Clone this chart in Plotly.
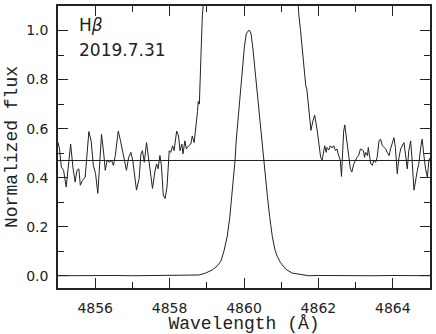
import plotly.graph_objects as go

# line profile (normalized flux)
PROFILE_WAVE = [4855.00, 4855.50, 4856.00, 4856.50, 4857.00, 4857.50, 4858.00, 4858.50,
                4858.79, 4858.97, 4859.15, 4859.28, 4859.38, 4859.46, 4859.55, 4859.62,
                4859.67, 4859.71, 4859.76, 4859.79, 4859.85, 4859.90, 4859.95, 4860.01,
                4860.06, 4860.12, 4860.15, 4860.19, 4860.24, 4860.29, 4860.35, 4860.40,
                4860.46, 4860.51, 4860.54, 4860.58, 4860.63, 4860.69, 4860.76, 4860.83,
                4860.89, 4860.98, 4861.12, 4861.29, 4861.56, 4861.74, 4862.00, 4862.50,
                4863.00, 4863.50, 4864.00, 4864.50, 4865.00]
PROFILE_FLUX = [0.000, 0.001, 0.000, 0.001, 0.000, 0.001, 0.000, 0.001,
                0.003, 0.011, 0.024, 0.040, 0.060, 0.100, 0.161, 0.241,
                0.322, 0.402, 0.472, 0.550, 0.657, 0.765, 0.859, 0.932,
                0.986, 1.000, 1.000, 0.986, 0.926, 0.845, 0.765, 0.671,
                0.577, 0.497, 0.472, 0.402, 0.322, 0.241, 0.161, 0.107,
                0.080, 0.054, 0.027, 0.011, 0.003, 0.000, 0.001, 0.000,
                0.001, 0.000, 0.001, 0.000, 0.000]

# magnified wings (off the top of the axes between the two segments)
WING_WAVE = [4855.00, 4855.04, 4855.09, 4855.15, 4855.22, 4855.29, 4855.34, 4855.40,
             4855.46, 4855.51, 4855.56, 4855.60, 4855.66, 4855.73, 4855.78, 4855.83,
             4855.89, 4855.95, 4856.01, 4856.07, 4856.11, 4856.17, 4856.23, 4856.27,
             4856.32, 4856.38, 4856.44, 4856.49, 4856.54, 4856.62, 4856.68, 4856.74,
             4856.78, 4856.84, 4856.90, 4856.96, 4857.01, 4857.07, 4857.11, 4857.18,
             4857.23, 4857.27, 4857.32, 4857.38, 4857.43, 4857.50, 4857.54, 4857.61,
             4857.65, 4857.69, 4857.74, 4857.78, 4857.83, 4857.88, 4857.93, 4857.99,
             4858.03, 4858.08, 4858.12, 4858.19, 4858.24, 4858.28, 4858.33, 4858.36,
             4858.41, 4858.45, 4858.51, 4858.57, 4858.61, 4858.66, 4858.71, 4858.75,
             4858.77, 4858.80, 4858.84, 4858.88, 4858.93,
             None,
             4861.44, 4861.47, 4861.52, 4861.58, 4861.63, 4861.66, 4861.69, 4861.74,
             4861.80, 4861.85, 4861.90, 4861.97, 4862.01, 4862.06, 4862.10, 4862.14,
             4862.17, 4862.21, 4862.23, 4862.28, 4862.32, 4862.37, 4862.41, 4862.46,
             4862.50, 4862.53, 4862.59, 4862.62, 4862.65, 4862.68, 4862.71, 4862.74,
             4862.77, 4862.82, 4862.86, 4862.90, 4862.95, 4862.99, 4863.04, 4863.08,
             4863.13, 4863.21, 4863.24, 4863.27, 4863.32, 4863.34, 4863.41, 4863.45,
             4863.49, 4863.54, 4863.58, 4863.63, 4863.67, 4863.72, 4863.76, 4863.81,
             4863.85, 4863.90, 4863.94, 4863.99, 4864.03, 4864.07, 4864.12, 4864.16,
             4864.21, 4864.30, 4864.34, 4864.39, 4864.43, 4864.48, 4864.52, 4864.57,
             4864.66, 4864.70, 4864.75, 4864.79, 4864.83, 4864.88, 4864.93, 4864.97,
             4865.00]
WING_FLUX = [0.543, 0.518, 0.443, 0.430, 0.362, 0.483, 0.537, 0.443,
             0.382, 0.430, 0.436, 0.369, 0.389, 0.402, 0.510, 0.588,
             0.550, 0.450, 0.416, 0.336, 0.430, 0.577, 0.497, 0.430,
             0.470, 0.463, 0.470, 0.450, 0.490, 0.590, 0.550, 0.503,
             0.476, 0.430, 0.483, 0.503, 0.470, 0.402, 0.349, 0.396,
             0.497, 0.510, 0.463, 0.543, 0.483, 0.389, 0.356, 0.430,
             0.456, 0.436, 0.490, 0.450, 0.329, 0.315, 0.362, 0.510,
             0.503, 0.530, 0.510, 0.590, 0.570, 0.510, 0.537, 0.497,
             0.550, 0.517, 0.530, 0.537, 0.570, 0.543, 0.603, 0.670,
             0.711, 0.700, 0.885, 1.060, 1.150,
             None,
             1.150, 1.070, 1.000, 0.900, 0.800, 0.775, 0.760, 0.671,
             0.593, 0.630, 0.655, 0.590, 0.537, 0.483, 0.472, 0.510,
             0.530, 0.503, 0.523, 0.513, 0.530, 0.521, 0.530, 0.510,
             0.517, 0.497, 0.470, 0.405, 0.510, 0.590, 0.615, 0.577,
             0.523, 0.483, 0.436, 0.423, 0.456, 0.470, 0.483, 0.490,
             0.517, 0.510, 0.483, 0.503, 0.490, 0.523, 0.456, 0.450,
             0.470, 0.463, 0.483, 0.550, 0.557, 0.530, 0.523, 0.517,
             0.503, 0.490, 0.517, 0.543, 0.563, 0.523, 0.416, 0.476,
             0.517, 0.543, 0.497, 0.436, 0.510, 0.550, 0.470, 0.349,
             0.430, 0.456, 0.523, 0.557, 0.497, 0.436, 0.402, 0.470,
             0.480]

CONTINUUM_WAVE = [4855.0, 4865.0]
CONTINUUM_FLUX = [0.47, 0.47]

LINE_NAME = 'H<i>β</i>'
DATE_LABEL = '2019.7.31'

X_RANGE = [4855, 4865]
Y_RANGE = [-0.05, 1.1]

INK = '#222222'
TITLE_FONT = 'Liberation Mono'
TICK_FONT = 'DejaVu Sans'


def axis_style(major, minor, rng):
    return dict(
        range=rng,
        showline=True, linecolor=INK, linewidth=1.5, mirror='allticks',
        ticks='inside', ticklen=10, tickwidth=1.2, tickcolor=INK,
        dtick=major, showgrid=False, zeroline=False,
        minor=dict(dtick=minor, ticks='inside', ticklen=6, tickwidth=1.2,
                   tickcolor=INK, showgrid=False),
        tickfont=dict(family=TICK_FONT, size=14, color=INK),
    )


fig = go.Figure()
fig.add_trace(go.Scatter(x=CONTINUUM_WAVE, y=CONTINUUM_FLUX, mode='lines',
                         line=dict(color=INK, width=1)))
fig.add_trace(go.Scatter(x=WING_WAVE, y=WING_FLUX, mode='lines',
                         line=dict(color=INK, width=1), connectgaps=False))
fig.add_trace(go.Scatter(x=PROFILE_WAVE, y=PROFILE_FLUX, mode='lines',
                         line=dict(color=INK, width=1)))

xaxis = axis_style(2, 1, X_RANGE)
xaxis.update(tickformat='d', ticklabelstandoff=6,
             title=dict(text='Wavelength (Å)', standoff=2,
                        font=dict(family=TITLE_FONT, size=18, color=INK)))
yaxis = axis_style(0.2, 0.1, Y_RANGE)
yaxis.update(tickformat='.1f', ticklabelstandoff=5,
             title=dict(text='Normalized flux', standoff=4,
                        font=dict(family=TITLE_FONT, size=18, color=INK)))

fig.update_layout(
    width=436, height=334,
    margin=dict(l=58, r=4, t=4, b=45),
    paper_bgcolor='white', plot_bgcolor='white',
    showlegend=False,
    xaxis=xaxis, yaxis=yaxis,
    annotations=[
        dict(text=LINE_NAME, xref='paper', yref='paper', x=0.05, y=0.975,
             xanchor='left', yanchor='top', showarrow=False,
             font=dict(family=TICK_FONT, size=17, color=INK)),
        dict(text=DATE_LABEL, xref='paper', yref='paper', x=0.05, y=0.885,
             xanchor='left', yanchor='top', showarrow=False,
             font=dict(family=TICK_FONT, size=17, color=INK)),
    ],
)

# page body has a default 8px margin; drop it so the figure sits at the corner
fig.write_html('out.html', config={'displayModeBar': False},
               post_script="document.body.style.margin='0';")
